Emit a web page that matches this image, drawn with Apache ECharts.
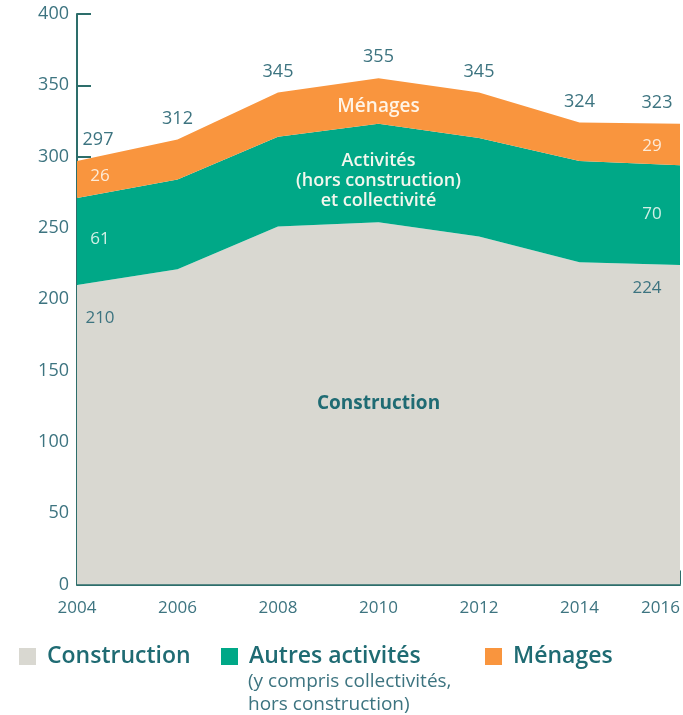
<!DOCTYPE html>
<html>
<head>
<meta charset="utf-8">
<script src="https://cdn.jsdelivr.net/npm/echarts@6/dist/echarts.min.js"></script>
<style>
  html, body { margin: 0; padding: 0; background: #fff; }
  #chart { width: 683px; height: 715px; }
</style>
</head>
<body>
<div id="chart"></div>
<script>
// années et valeurs
const years = ["2004", "2006", "2008", "2010", "2012", "2014", "2016"];
const construction = [210, 221, 251, 254, 244, 226, 224];
const autres = [61, 63, 63, 69, 69, 71, 70];
const menages = [26, 28, 31, 32, 32, 27, 29];
const totals = [297, 312, 345, 355, 345, 324, 323];
const yTicks = [0, 50, 100, 150, 200, 250, 300, 350, 400];

const tealText = "#3d7480";
const axisColor = "#2d6e6b";
const font = "'Open Sans', sans-serif";

// libellé sur le premier et le dernier point uniquement
function edgeLabels(values, first, last, color) {
  return values.map((v, i) => {
    let item = { value: v };
    if (i === 0 || i === values.length - 1) {
      item.label = {
        show: true,
        position: "inside",
        offset: i === 0 ? first : last,
        color: color,
        fontSize: 17,
        fontFamily: font
      };
    }
    return item;
  });
}

// texte posé au milieu d'une bande (point 2010)
function bandText(text, y, color, size, weight) {
  return {
    symbol: "rect",
    symbolSize: 0,
    label: {
      show: true,
      position: "inside",
      color: color,
      fontSize: size,
      fontWeight: weight,
      fontFamily: font,
      lineHeight: 20,
      formatter: text
    },
    data: [{ coord: ["2010", y] }]
  };
}

function areaSeries(name, values, color, labels, mark) {
  return {
    name: name,
    type: "line",
    stack: "total",
    symbol: "circle",
    symbolSize: 0,
    showSymbol: true,
    lineStyle: { width: 0 },
    itemStyle: { color: color },
    areaStyle: { color: color, opacity: 1 },
    data: labels,
    markPoint: mark
  };
}

let option = {
  animation: false,
  grid: { left: 77, right: 0, top: 14, bottom: 130.5 },
  xAxis: {
    type: "category",
    data: years,
    boundaryGap: false,
    splitLine: { show: false },
    axisLine: { lineStyle: { color: axisColor, width: 2 } },
    axisTick: { inside: true, length: 14, lineStyle: { color: axisColor, width: 2 } },
    axisLabel: {
      color: tealText,
      fontSize: 17,
      fontFamily: font,
      margin: 15,
      alignMaxLabel: "right"
    }
  },
  yAxis: {
    type: "value",
    min: yTicks[0],
    max: yTicks[yTicks.length - 1],
    interval: 50,
    splitLine: { show: false },
    axisLine: { show: true, lineStyle: { color: axisColor, width: 2 } },
    axisTick: { show: true, inside: true, length: 14, lineStyle: { color: axisColor, width: 2 } },
    axisLabel: { color: tealText, fontSize: 18, fontFamily: font, margin: 8 }
  },
  legend: [
    { name: "Construction", left: 14 },
    { name: "Autres activités", left: 216 },
    { name: "Ménages", left: 480 }
  ].map(l => ({
    data: [l.name],
    left: l.left,
    top: 640,
    icon: "rect",
    itemWidth: 17,
    itemHeight: 17,
    selectedMode: false,
    textStyle: {
      color: "#1f6b73",
      fontSize: 23,
      fontWeight: 600,
      fontFamily: font,
      padding: [0, 0, 0, 6]
    }
  })),
  graphic: [
    {
      type: "text",
      left: 248,
      top: 670,
      style: {
        text: "(y compris collectivités,\nhors construction)",
        fill: tealText,
        font: "19px " + font,
        lineHeight: 23
      }
    }
  ],
  series: [
    areaSeries("Construction", construction, "#d9d8d1",
      edgeLabels(construction, [23, 33], [-33, 23], tealText),
      bandText("Construction", 127, "#1f6b73", 19, 700)),
    areaSeries("Autres activités", autres, "#00a887",
      edgeLabels(autres, [23, 41], [-28, 49], "#d2f0e6"),
      bandText("Activités\n(hors construction)\net collectivité", 283, "#f3f7ee", 18, 600)),
    areaSeries("Ménages", menages, "#f9953e",
      edgeLabels(menages, [23, 15], [-28, 22], "#fdebd8"),
      bandText("Ménages", 335, "#fff4e6", 19, 600)),
    {
      // totaux au-dessus de la courbe
      name: "Total",
      type: "line",
      symbol: "circle",
      symbolSize: 0,
      lineStyle: { width: 0 },
      itemStyle: { color: tealText },
      label: {
        show: true,
        position: "top",
        distance: 12,
        color: tealText,
        fontSize: 18,
        fontFamily: font
      },
      data: totals.map((v, i) => {
        let item = { value: v };
        if (i === 0) item.label = { offset: [21, 0] };
        if (i === totals.length - 1) item.label = { offset: [-23, 0] };
        return item;
      }),
      z: 5
    }
  ]
};

echarts.init(document.getElementById("chart")).setOption(option);
</script>
</body>
</html>
